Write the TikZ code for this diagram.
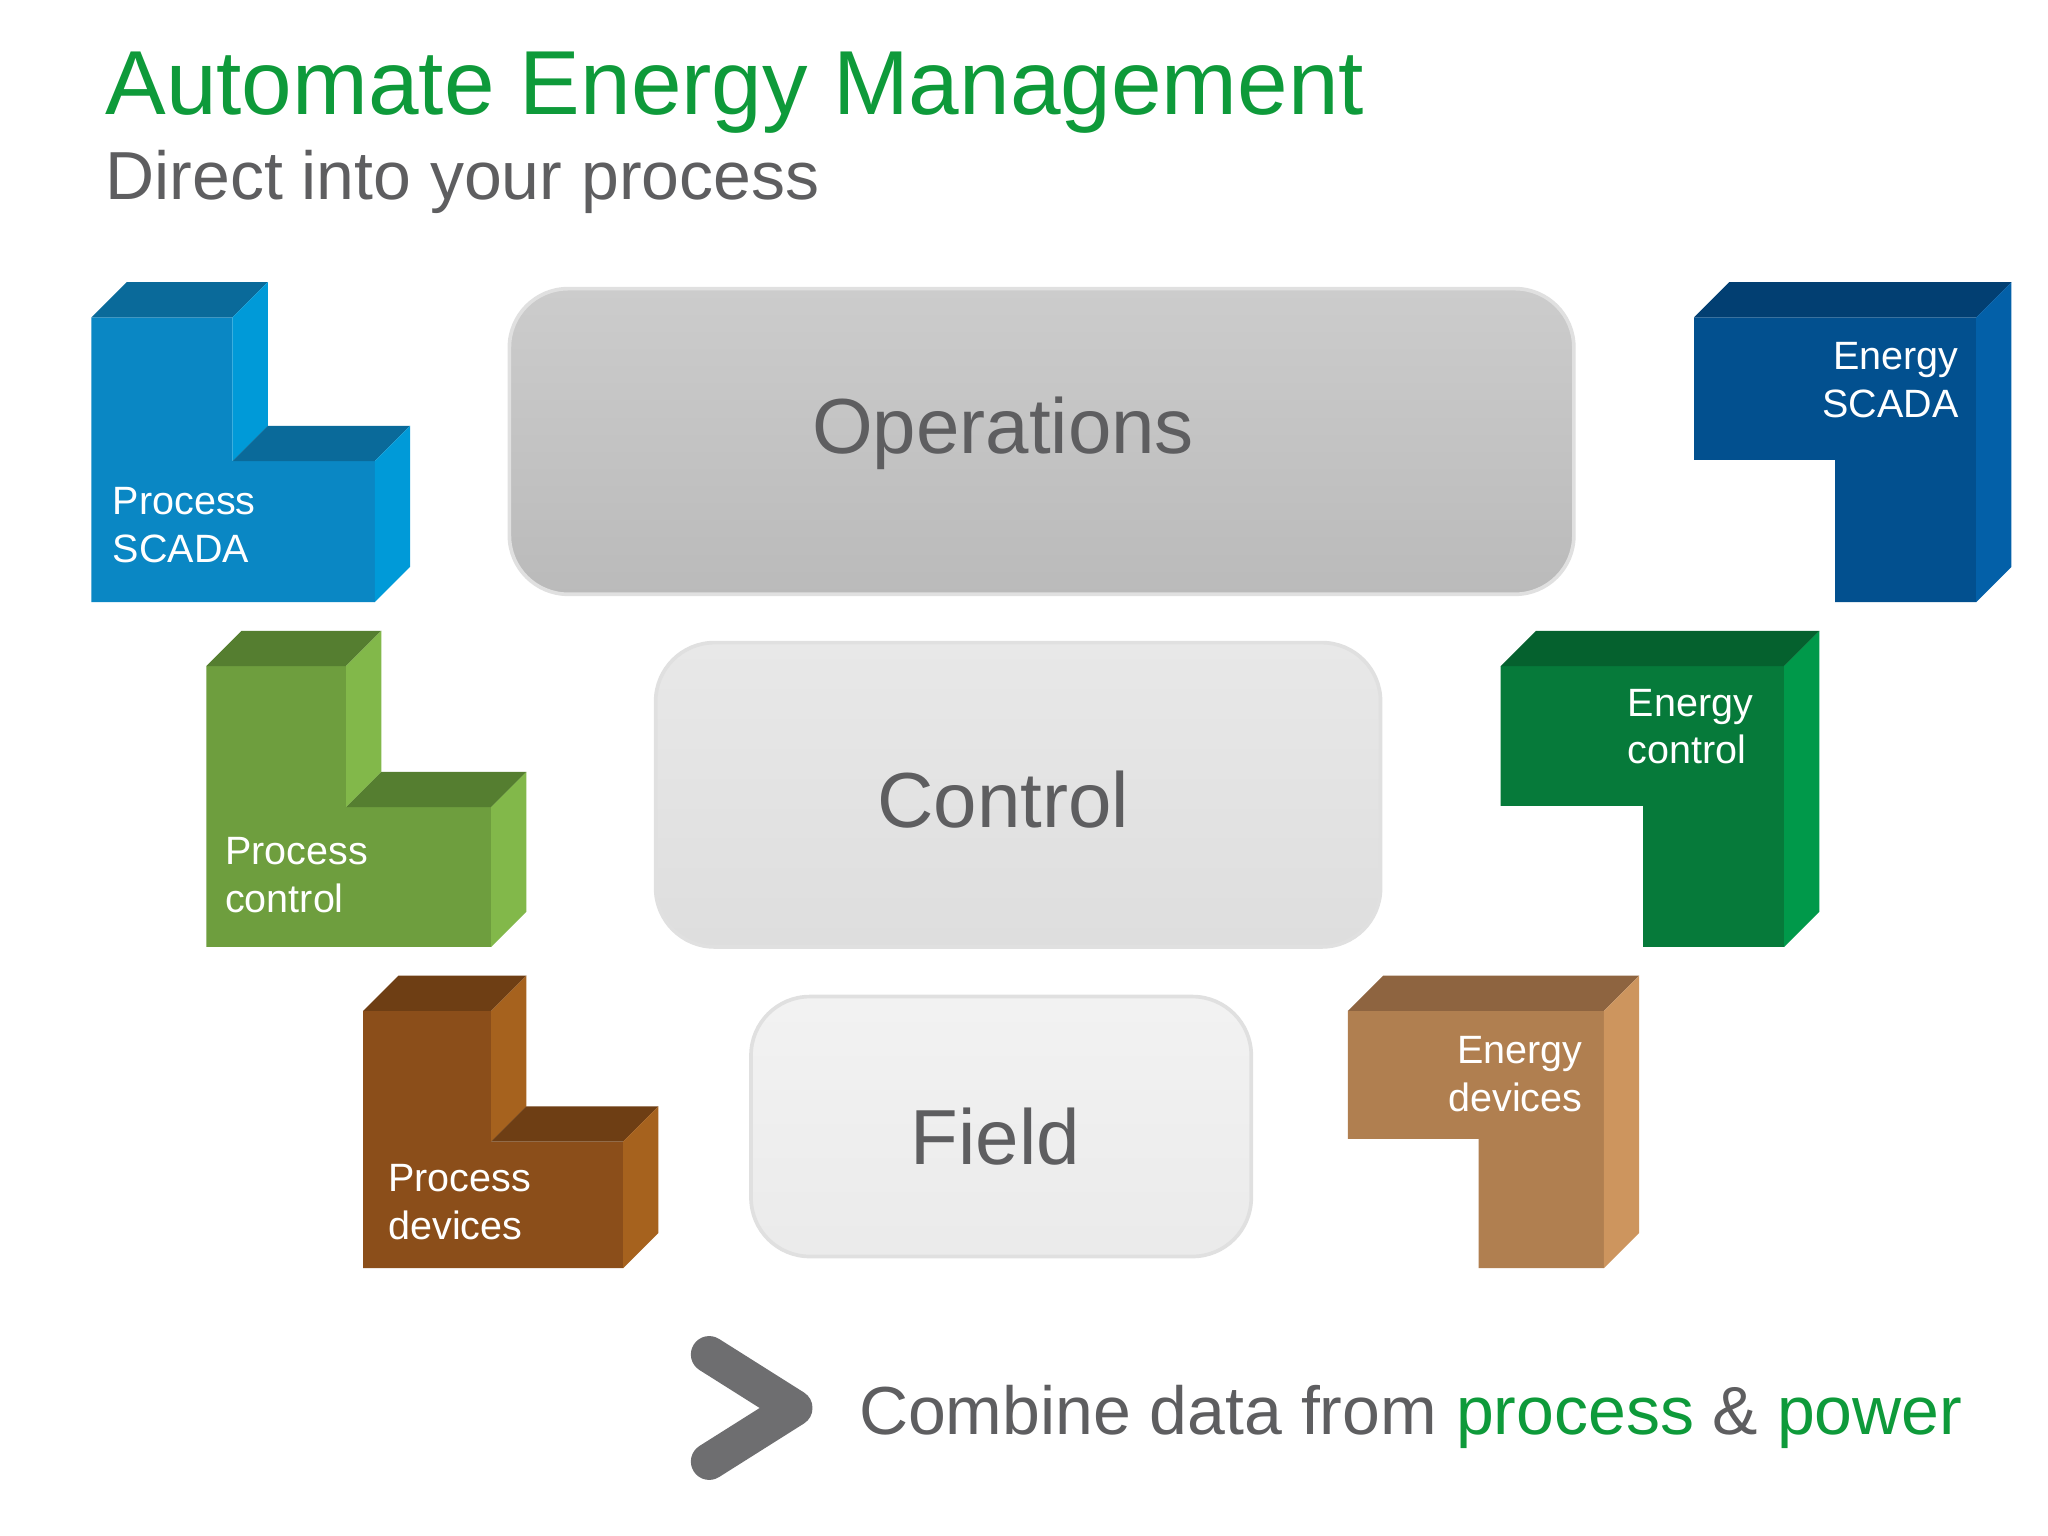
\documentclass[tikz,border=0pt]{standalone}
\usepackage{fontspec}
\setmainfont{Liberation Sans}
\definecolor{tgreen}{HTML}{0E9A3A}
\definecolor{tgray}{HTML}{5E5E60}
\definecolor{psF}{HTML}{0A87C4}\definecolor{psT}{HTML}{0A6A9A}\definecolor{psS}{HTML}{009AD8}
\definecolor{pcF}{HTML}{6E9E3E}\definecolor{pcT}{HTML}{557E30}\definecolor{pcS}{HTML}{82B84A}
\definecolor{pdF}{HTML}{8B4E1A}\definecolor{pdT}{HTML}{6E3E14}\definecolor{pdS}{HTML}{A6621E}
\definecolor{esF}{HTML}{02508F}\definecolor{esT}{HTML}{023F72}\definecolor{esS}{HTML}{0360A8}
\definecolor{ecF}{HTML}{067A3A}\definecolor{ecT}{HTML}{05612E}\definecolor{ecS}{HTML}{00994A}
\definecolor{edF}{HTML}{B07F50}\definecolor{edT}{HTML}{8E6440}\definecolor{edS}{HTML}{CD955E}
\newcommand\LeftL[7]{% x0 x1 x2 y0 y1 y2 prefix
 \def\d{27}
 \fill[#7F] (#1,#4)--(#2,#4)--(#2,#5)--(#3,#5)--(#3,#6)--(#1,#6)--cycle;
 \fill[#7T] (#1,#4)--(#1+\d,#4-\d)--(#2+\d,#4-\d)--(#2,#4)--cycle;
 \fill[#7S] (#2,#4)--(#2+\d,#4-\d)--(#2+\d,#5-\d)--(#2,#5)--cycle;
 \fill[#7T] (#2,#5)--(#2+\d,#5-\d)--(#3+\d,#5-\d)--(#3,#5)--cycle;
 \fill[#7S] (#3,#5)--(#3+\d,#5-\d)--(#3+\d,#6-\d)--(#3,#6)--cycle;}
\newcommand\RightL[7]{% x0 x1 x2 y0 y1 y2 prefix
 \def\d{27}
 \fill[#7F] (#1,#4)--(#3,#4)--(#3,#6)--(#2,#6)--(#2,#5)--(#1,#5)--cycle;
 \fill[#7T] (#1,#4)--(#1+\d,#4-\d)--(#3+\d,#4-\d)--(#3,#4)--cycle;
 \fill[#7S] (#3,#4)--(#3+\d,#4-\d)--(#3+\d,#6-\d)--(#3,#6)--cycle;}
\begin{document}
\begin{tikzpicture}[x=0.01cm,y=-0.01cm,
  lbl/.style={text=white,font=\fontsize{8.6pt}{10.4pt}\selectfont,align=left},
  tier/.style={rounded corners=0.45cm,draw=black!12,line width=0.8pt},
  tiertxt/.style={text=tgray,font=\fontsize{17pt}{20pt}\selectfont}]
\useasboundingbox (0,0) rectangle (1568,1176);
\fill[white] (0,0) rectangle (1568,1176);
\node[anchor=base west,text=tgreen,font=\fontsize{19.8pt}{24pt}\selectfont,inner sep=0] (title) at (80,88) {Automate Energy Management};
\node[anchor=base west,text=tgray,font=\fontsize{14.8pt}{17pt}\selectfont,inner sep=0] (sub) at (80,153) {Direct into your process};
\LeftL{70}{178}{287}{243}{353}{461}{ps}
\LeftL{158}{265}{376}{510}{618}{725}{pc}
\LeftL{278}{376}{477}{774}{874}{971}{pd}
\RightL{1297}{1405}{1513}{243}{352}{461}{es}
\RightL{1149}{1258}{1366}{510}{617}{725}{ec}
\RightL{1032}{1132}{1228}{774}{872}{971}{ed}
\node[lbl,anchor=north west] (ps) at (74,361) {Process\\SCADA};
\node[lbl,anchor=north west] (pc) at (160,629) {Process\\control};
\node[lbl,anchor=north west] (pd) at (285,879) {Process\\devices};
\node[lbl,anchor=north east,align=right] (es) at (1512,250) {Energy\\SCADA};
\node[lbl,anchor=north west] (ec) at (1234,515) {Energy\\control};
\node[lbl,anchor=north east,align=right] (ed) at (1224,781) {Energy\\devices};
\shade[tier,top color=black!20,bottom color=black!27] (390,221) rectangle (1205,455);
\node[tiertxt] (ops) at (768,332) {Operations};
\shade[tier,top color=black!9,bottom color=black!13] (502,492) rectangle (1057,725);
\node[tiertxt] (ctl) at (768,612) {Control};
\shade[tier,top color=black!5,bottom color=black!8] (575,763) rectangle (958,962);
\node[tiertxt] (fld) at (762,870) {Field};
\draw[tgray!90,line width=8pt,line cap=round,line join=round] (543,1037)--(608,1078)--(543,1119);
\node[anchor=base west,inner sep=0,text=tgray,font=\fontsize{14.8pt}{17pt}\selectfont] (cmb) at (657,1098) {Combine data from \textcolor{tgreen}{process} \& \textcolor{tgreen}{power}};
\end{tikzpicture}
\end{document}
